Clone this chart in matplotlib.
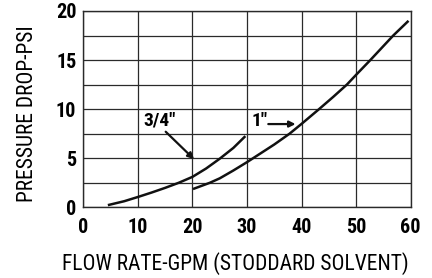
import matplotlib
matplotlib.use("Agg")
import matplotlib.pyplot as plt

# Data
x_34 = [4.5, 7.5, 10, 12.5, 15, 17.5, 20, 22.5, 25, 27.5, 29.7]
y_34 = [0.22, 0.62, 1.05, 1.5, 1.98, 2.5, 3.1, 3.95, 4.95, 6.05, 7.25]

x_1 = [20.1, 23.2, 25, 27.5, 30, 32.5, 35, 37.8, 40, 43.2, 45.8, 48.3, 50, 52.6, 54.7, 56.8, 59.6]
y_1 = [1.86, 2.5, 2.95, 3.75, 4.6, 5.5, 6.4, 7.5, 8.5, 10.0, 11.25, 12.5, 13.5, 15.0, 16.25, 17.5, 19.0]

x_ticks = [0, 10, 20, 30, 40, 50, 60]
y_ticks = [0, 5, 10, 15, 20]
y_grid = [0, 2.5, 5, 7.5, 10, 12.5, 15, 17.5, 20]

label_34 = '3/4"'
label_1 = '1"'
xlabel = "FLOW RATE-GPM (STODDARD SOLVENT)"
ylabel = "PRESSURE DROP-PSI"

W, H = 432, 278
fig = plt.figure(figsize=(W / 100, H / 100), dpi=100)
L, R, T, B = 83.3, 410.7, 11, 207.3
ax = fig.add_axes([L / W, (H - B) / H, (R - L) / W, (B - T) / H])

narrow = "Roboto Condensed"

ax.set_xlim(0, 60)
ax.set_ylim(0, 20)
for gx in x_ticks:
    ax.axvline(gx, color="#2a2a2a", lw=0.9, zorder=1)
for gy in y_grid:
    ax.axhline(gy, color="#2a2a2a", lw=0.9, zorder=1)

ax.plot(x_34, y_34, color="#111111", lw=1.8, solid_capstyle="butt", zorder=3)
ax.plot(x_1, y_1, color="#111111", lw=1.8, solid_capstyle="butt", zorder=3)

ax.set_xticks(x_ticks)
ax.set_yticks(y_ticks)
ax.set_xticklabels([str(v) for v in x_ticks], fontfamily=narrow, fontweight="bold", fontsize=14.5)
ax.set_yticklabels([str(v) for v in y_ticks], fontfamily=narrow, fontweight="bold", fontsize=14.5)
ax.tick_params(axis="x", length=0, pad=8)
ax.tick_params(axis="y", length=0, pad=5)
for s in ax.spines.values():
    s.set_color("#2a2a2a")
    s.set_linewidth(1.0)

fig.text(235.5 / W, 1 - 264 / H, xlabel, ha="center", va="center",
         fontfamily=narrow, fontsize=15.5)
fig.text(27.5 / W, 1 - 113.5 / H, ylabel, ha="center", va="center",
         rotation=90, fontfamily=narrow, fontsize=15.5)

ax.text(14.05, 8.85, label_34, ha="center", va="center", fontfamily=narrow,
        fontweight="bold", fontsize=14, zorder=4,
        bbox=dict(facecolor="white", edgecolor="none", pad=0.3))
ax.annotate("", xy=(20.3, 4.9), xytext=(15.1, 7.7),
            arrowprops=dict(arrowstyle="-|>", color="#111111", lw=1.6,
                            mutation_scale=9, shrinkA=0, shrinkB=0), zorder=4)
ax.text(32.3, 8.8, label_1, ha="center", va="center", fontfamily=narrow,
        fontweight="bold", fontsize=14, zorder=4,
        bbox=dict(facecolor="white", edgecolor="none", pad=0.3))
ax.annotate("", xy=(38.9, 8.48), xytext=(33.9, 8.48),
            arrowprops=dict(arrowstyle="-|>", color="#111111", lw=1.6,
                            mutation_scale=9, shrinkA=0, shrinkB=0), zorder=4)

fig.savefig("out.png", dpi=100)
